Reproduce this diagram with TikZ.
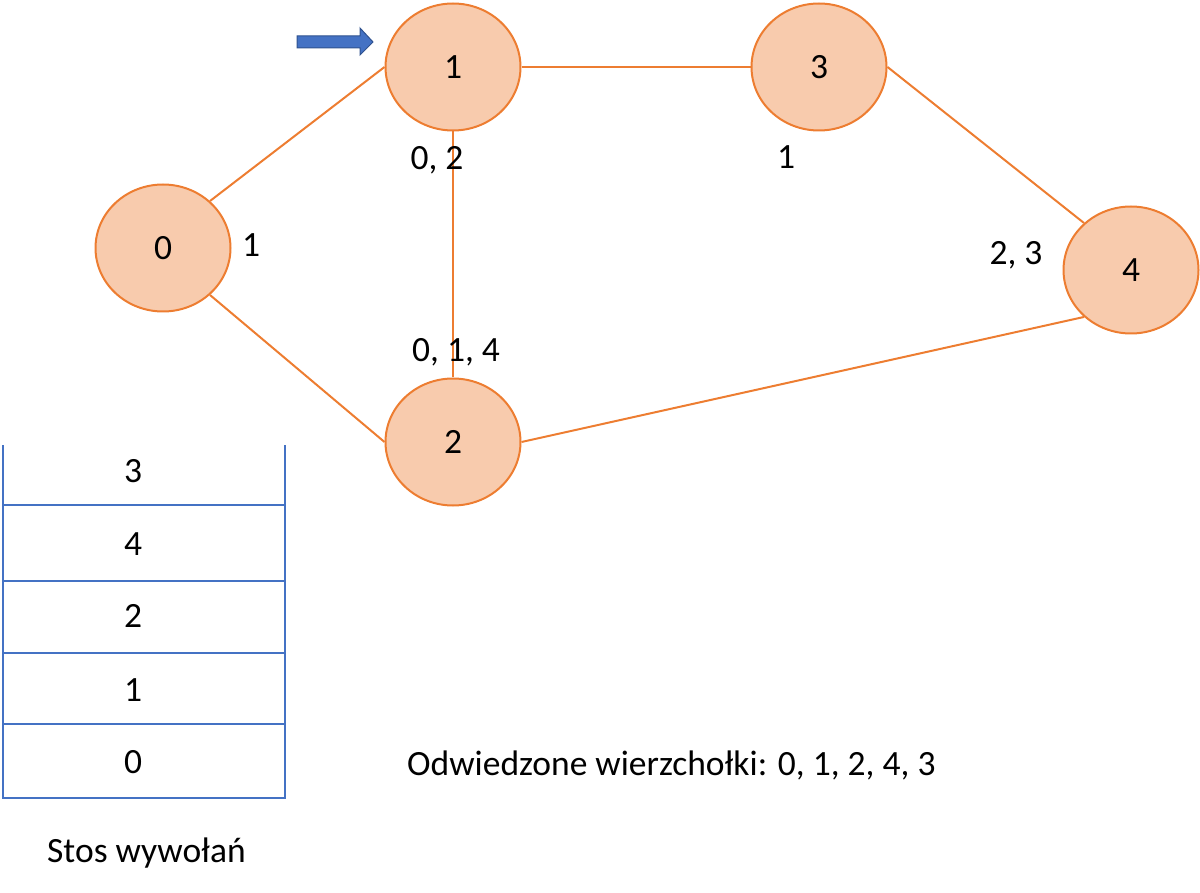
\documentclass[tikz,border=0pt]{standalone}
\usepackage{fontspec}
\setmainfont{Carlito}
\usetikzlibrary{shapes.geometric}
\definecolor{vfill}{HTML}{F8CBAD}
\definecolor{vline}{HTML}{ED7D31}
\definecolor{sblue}{HTML}{4472C4}
\definecolor{sdark}{HTML}{2F528F}
\begin{document}
\begin{tikzpicture}[x=1pt,y=-1pt,
  vert/.style={ellipse,draw=vline,fill=vfill,line width=2pt,minimum width=135pt,minimum height=127pt,inner sep=0pt,font=\fontsize{35.5}{40}\selectfont},
  edge/.style={draw=vline,line width=2pt},
  lbl/.style={font=\fontsize{35.5}{40}\selectfont,inner sep=0pt},
  stk/.style={draw=sblue,line width=2.5pt},
]
\useasboundingbox (0,0) rectangle (1200,893);
\node[vert] (v0) at (163,248) {0};
\node[vert] (v1) at (453,67) {1};
\node[vert] (v3) at (819,67) {3};
\node[vert] (v4) at (1131,270) {4};
\node[vert] (v2) at (453,442) {2};
\draw[edge] (v0.45) -- (v1.west);
\draw[edge] (v0.-45) -- (v2.west);
\draw[edge] (v1.east) -- (v3.west);
\draw[edge] (v1.south) -- (v2.north);
\draw[edge] (v3.east) -- (v4.135);
\draw[edge] (v2.east) -- (v4.-135);
\node[lbl] (l0) at (251,245) {1};
\node[lbl] (l1) at (437,160) {0, 2};
\node[lbl] (l3) at (786,157) {1};
\node[lbl] (l4) at (1016,255) {2, 3};
\node[lbl] (l2) at (456,352) {0, 1, 4};
% block arrow
\draw[fill=sblue,draw=sdark,line width=1pt] (297,36) -- (360,36) -- (360,28) -- (373,42) -- (360,55) -- (360,48) -- (297,48) -- cycle;
% stack
\coordinate (tl) at (3,445);
\coordinate (tr) at (285,445);
\coordinate (bl) at (3,798);
\coordinate (br) at (285,798);
\draw[stk] (tl) -- (bl) -- (br) -- (tr);
\foreach \y in {505,581,653,724} \draw[stk] (3,\y) -- (285,\y);
\node[lbl] (s3) at (133,471) {3};
\node[lbl] (s4) at (133,544) {4};
\node[lbl] (s2) at (133,616) {2};
\node[lbl] (s1) at (133,690) {1};
\node[lbl] (s0) at (133,762) {0};
\node[lbl,anchor=west] (stos) at (47,853) {Stos wywołań};
\node[lbl,anchor=west] (odw) at (407,765) {Odwiedzone wierzchołki: 0, 1, 2, 4, 3};
\end{tikzpicture}
\end{document}
